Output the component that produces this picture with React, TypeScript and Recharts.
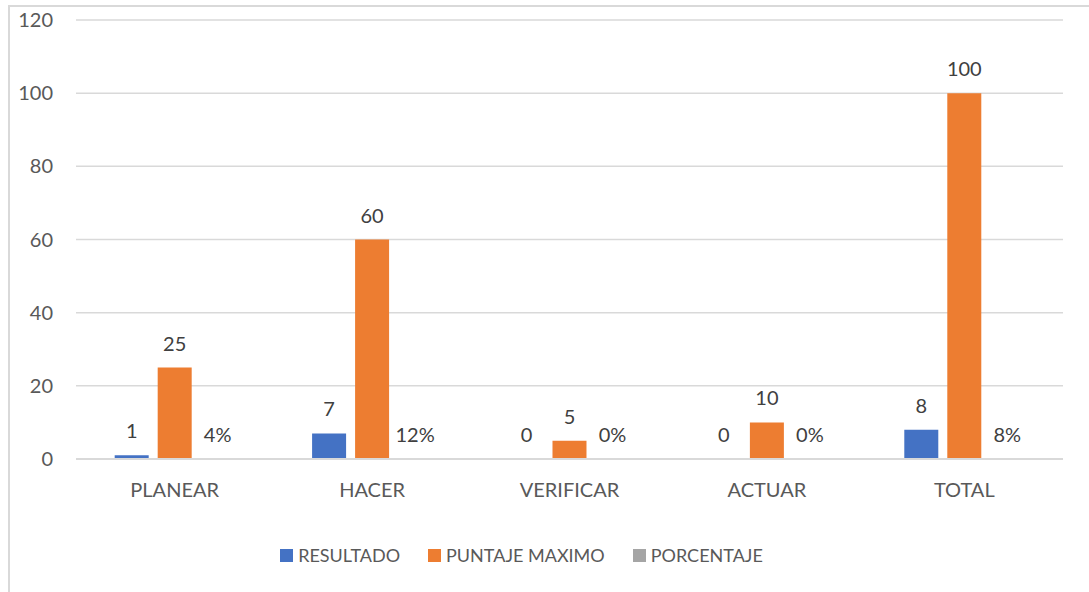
import React from "react";
import { BarChart, Bar, XAxis, YAxis, CartesianGrid, Legend, LabelList } from "recharts";

const categories = ["PLANEAR", "HACER", "VERIFICAR", "ACTUAR", "TOTAL"];
const resultado = [1, 7, 0, 0, 8];
const puntajeMaximo = [25, 60, 5, 10, 100];
const porcentaje = [0.04, 0.12, 0, 0, 0.08];
const yTicks = [0, 20, 40, 60, 80, 100, 120];

const seriesNames = ["RESULTADO", "PUNTAJE MAXIMO", "PORCENTAJE"];
const seriesColors = ["#4472C4", "#ED7D31", "#A5A5A5"];

const data = categories.map((c, i) => ({
  name: c,
  resultado: resultado[i],
  puntaje: puntajeMaximo[i],
  porcentaje: porcentaje[i],
}));

const FONT = "Lato, 'Open Sans', sans-serif";
const FS = 20;

const renderLegend = () => (
  <div style={{ display: "flex", justifyContent: "center", alignItems: "center", fontFamily: FONT }}>
    {seriesNames.map((n, i) => (
      <div key={n} style={{ display: "flex", alignItems: "center", marginRight: i < 2 ? 28 : 0 }}>
        <div style={{ width: 13, height: 13, background: seriesColors[i], marginRight: 5 }} />
        <span style={{ fontSize: 18, color: "#595959" }}>{n}</span>
      </div>
    ))}
  </div>
);

export default function App() {
  return (
    <div style={{ position: "absolute", left: 0, top: 0, width: 1089, height: 592, background: "#fff", overflow: "hidden", fontFamily: FONT }}>
      <div style={{ position: "absolute", left: 8, top: 5, width: 1100, height: 620, border: "2px solid #d9d9d9", boxSizing: "border-box" }} />
      <div style={{ position: "absolute", left: 0, top: 0 }}>
        <BarChart
          width={1089}
          height={592}
          data={data}
          margin={{ top: 20, right: 26, left: 0, bottom: 73 }}
          barGap={9}
          barCategoryGap="19.6%"
        >
          <CartesianGrid vertical={false} stroke="#d9d9d9" strokeWidth={1.5} />
          <XAxis
            dataKey="name"
            height={60}
            tickLine={false}
            tickSize={0}
            tickMargin={24}
            axisLine={{ stroke: "#d9d9d9", strokeWidth: 2 }}
            tick={{ fill: "#595959", fontSize: FS }}
          />
          <YAxis
            width={76}
            domain={[0, 120]}
            ticks={yTicks}
            tickLine={false}
            tickSize={0}
            tickMargin={23}
            axisLine={false}
            tick={{ fill: "#595959", fontSize: FS }}
          />
          <Legend verticalAlign="middle" content={renderLegend} wrapperStyle={{ top: 544, left: -23, width: 1089 }} />
          <Bar dataKey="resultado" name={seriesNames[0]} fill={seriesColors[0]} minPointSize={0.01} isAnimationActive={false}>
            <LabelList dataKey="resultado" position="top" offset={17} fill="#404040" fontSize={FS} />
          </Bar>
          <Bar dataKey="puntaje" name={seriesNames[1]} fill={seriesColors[1]} minPointSize={0.01} isAnimationActive={false}>
            <LabelList dataKey="puntaje" position="top" offset={17} fill="#404040" fontSize={FS} />
          </Bar>
          <Bar dataKey="porcentaje" name={seriesNames[2]} fill={seriesColors[2]} minPointSize={0.01} isAnimationActive={false}>
            <LabelList
              dataKey="porcentaje"
              position="top"
              offset={17}
              fill="#404040"
              fontSize={FS}
              formatter={(v: any) => `${Math.round(Number(v) * 100)}%`}
            />
          </Bar>
        </BarChart>
      </div>
    </div>
  );
}
